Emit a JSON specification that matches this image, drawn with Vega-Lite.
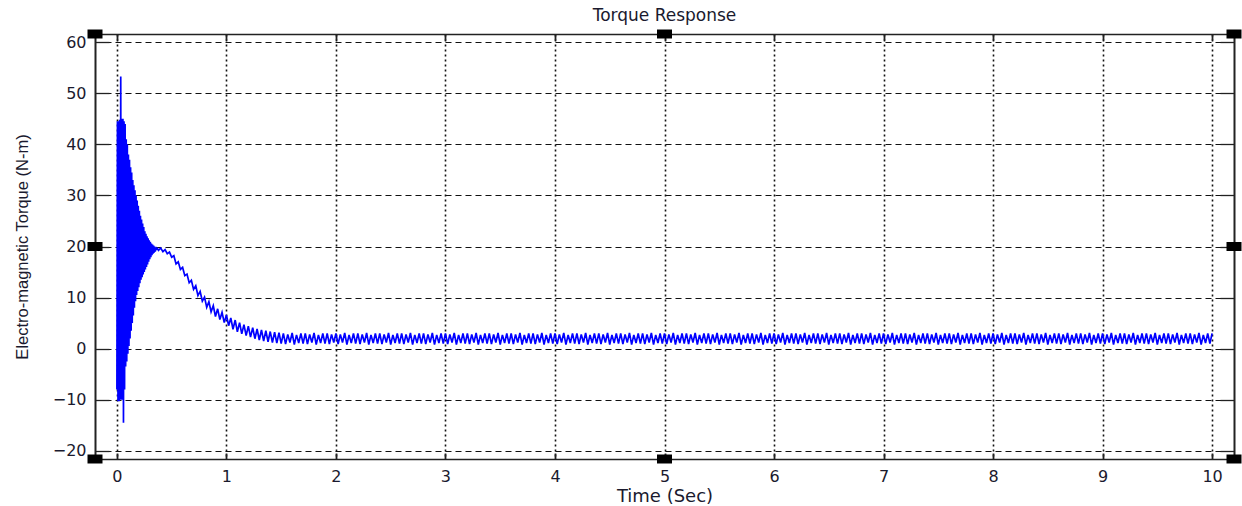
{
"$schema": "https://vega.github.io/schema/vega-lite/v6.json",
"width": 1139, "height": 425,
"autosize": {"type": "none"},
"padding": {"left": 95, "top": 34, "right": 8, "bottom": 47},
"background": "white",
"title": {"text": "Torque Response", "font": "DejaVu Sans", "fontSize": 17, "fontWeight": "normal", "color": "#1a1a2e", "offset": 5, "anchor": "middle"},
"config": {"view": {"stroke": null}},
"datasets": {
"torque": [
{"t":0,"v":-8},{"t":0.005,"v":44.5},{"t":0.01,"v":-10.3},{"t":0.015,"v":44.5},{"t":0.02,"v":-10.3},{"t":0.025,"v":44.8},{"t":0.03,"v":-10},{"t":0.035,"v":53.3},{"t":0.04,"v":-10},{"t":0.045,"v":45},{"t":0.05,"v":-10},{"t":0.055,"v":45},{"t":0.06,"v":-14.5},{"t":0.065,"v":44.5},{"t":0.07,"v":-8},{"t":0.075,"v":44},{"t":0.08,"v":-3.5},{"t":0.085,"v":41},{"t":0.09,"v":-2.5},{"t":0.095,"v":40},{"t":0.1,"v":-1},{"t":0.105,"v":38},{"t":0.11,"v":0.5},{"t":0.115,"v":37},{"t":0.12,"v":2},{"t":0.125,"v":35.5},{"t":0.13,"v":3.5},{"t":0.135,"v":34.5},{"t":0.14,"v":5},{"t":0.145,"v":33},{"t":0.15,"v":6.5},{"t":0.155,"v":32},{"t":0.16,"v":8},{"t":0.165,"v":31},{"t":0.17,"v":9.3},{"t":0.175,"v":30},{"t":0.18,"v":10.5},{"t":0.185,"v":29},{"t":0.19,"v":11.3},{"t":0.195,"v":28},{"t":0.2,"v":12},{"t":0.205,"v":27},{"t":0.21,"v":12.8},{"t":0.215,"v":26},{"t":0.22,"v":13.5},{"t":0.225,"v":25.3},{"t":0.23,"v":14},{"t":0.235,"v":24.5},{"t":0.24,"v":14.5},{"t":0.245,"v":23.8},{"t":0.25,"v":15},{"t":0.255,"v":23},{"t":0.26,"v":15.5},{"t":0.265,"v":22.5},{"t":0.27,"v":16},{"t":0.275,"v":22},{"t":0.28,"v":16.5},{"t":0.285,"v":21.6},{"t":0.29,"v":17},{"t":0.295,"v":21.2},{"t":0.3,"v":17.5},{"t":0.305,"v":20.9},{"t":0.31,"v":17.9},{"t":0.315,"v":20.6},{"t":0.32,"v":18.3},{"t":0.325,"v":20.4},{"t":0.33,"v":18.6},{"t":0.335,"v":20.2},{"t":0.34,"v":18.8},{"t":0.345,"v":20.0},{"t":0.35,"v":19.0},{"t":0.355,"v":19.8},{"t":0.36,"v":19.3},{"t":0.365,"v":19.7},{"t":0.37,"v":19.6},
{"t":0.38,"v":19.25},{"t":0.4,"v":19.7},{"t":0.42,"v":19.0},{"t":0.44,"v":19.4},{"t":0.46,"v":18.6},{"t":0.48,"v":18.9},{"t":0.5,"v":17.9},{"t":0.52,"v":18.2},{"t":0.54,"v":16.6},{"t":0.56,"v":17.0},{"t":0.58,"v":15.5},{"t":0.6,"v":15.9},{"t":0.62,"v":14.3},{"t":0.64,"v":14.6},{"t":0.66,"v":12.9},{"t":0.68,"v":13.4},{"t":0.7,"v":11.6},{"t":0.72,"v":12.3},{"t":0.74,"v":10.4},{"t":0.76,"v":11.2},{"t":0.78,"v":9.3},{"t":0.8,"v":10.1},{"t":0.82,"v":8.1},{"t":0.84,"v":9.2},{"t":0.86,"v":7.2},{"t":0.88,"v":8.4},{"t":0.9,"v":6.3},{"t":0.92,"v":7.8},{"t":0.94,"v":5.7},{"t":0.96,"v":7.1},{"t":0.98,"v":5.1},{"t":1.0,"v":6.6},{"t":1.02,"v":4.5},{"t":1.04,"v":6.0},{"t":1.06,"v":3.8},{"t":1.08,"v":5.6},{"t":1.1,"v":3.3},{"t":1.12,"v":5.1},{"t":1.14,"v":2.9},{"t":1.16,"v":4.7},{"t":1.18,"v":2.55},{"t":1.2,"v":4.4},{"t":1.22,"v":2.25},{"t":1.24,"v":4.1},{"t":1.26,"v":1.95},{"t":1.28,"v":3.85},{"t":1.3,"v":1.7},{"t":1.32,"v":3.65},{"t":1.34,"v":1.5},{"t":1.36,"v":3.5},{"t":1.38,"v":1.35},{"t":1.4,"v":3.35},{"t":1.42,"v":1.2},{"t":1.44,"v":3.25},{"t":1.46,"v":1.1},{"t":1.48,"v":3.15},
{"t":1.5,"v":1.0},{"t":1.52,"v":3.0},{"t":1.54,"v":0.9},{"t":1.56,"v":2.8},{"t":1.58,"v":1.2},{"t":1.6,"v":3.1},{"t":1.62,"v":0.8},{"t":1.64,"v":2.7},{"t":1.66,"v":1.1},{"t":1.68,"v":3.0},{"t":1.7,"v":1.0},{"t":1.72,"v":3.0},{"t":1.74,"v":0.9},{"t":1.76,"v":2.8},{"t":1.78,"v":1.2},{"t":1.8,"v":3.1},{"t":1.82,"v":0.8},{"t":1.84,"v":2.7},{"t":1.86,"v":1.1},{"t":1.88,"v":3.0},{"t":1.9,"v":1.0},{"t":1.92,"v":3.0},{"t":1.94,"v":0.9},{"t":1.96,"v":2.8},{"t":1.98,"v":1.2},
{"t":2.0,"v":3.0},{"t":2.02,"v":0.9},{"t":2.04,"v":2.8},{"t":2.06,"v":1.2},{"t":2.08,"v":3.1},{"t":2.1,"v":0.8},{"t":2.12,"v":2.7},{"t":2.14,"v":1.1},{"t":2.16,"v":3.0},{"t":2.18,"v":1.0},
{"t":2.2,"v":3.0},{"t":2.22,"v":0.9},{"t":2.24,"v":2.8},{"t":2.26,"v":1.2},{"t":2.28,"v":3.1},{"t":2.3,"v":0.8},{"t":2.32,"v":2.7},{"t":2.34,"v":1.1},{"t":2.36,"v":3.0},{"t":2.38,"v":1.0},
{"t":2.4,"v":3.0},{"t":2.42,"v":0.9},{"t":2.44,"v":2.8},{"t":2.46,"v":1.2},{"t":2.48,"v":3.1},{"t":2.5,"v":0.8},{"t":2.52,"v":2.7},{"t":2.54,"v":1.1},{"t":2.56,"v":3.0},{"t":2.58,"v":1.0},
{"t":2.6,"v":3.0},{"t":2.62,"v":0.9},{"t":2.64,"v":2.8},{"t":2.66,"v":1.2},{"t":2.68,"v":3.1},{"t":2.7,"v":0.8},{"t":2.72,"v":2.7},{"t":2.74,"v":1.1},{"t":2.76,"v":3.0},{"t":2.78,"v":1.0},
{"t":2.8,"v":3.0},{"t":2.82,"v":0.9},{"t":2.84,"v":2.8},{"t":2.86,"v":1.2},{"t":2.88,"v":3.1},{"t":2.9,"v":0.8},{"t":2.92,"v":2.7},{"t":2.94,"v":1.1},{"t":2.96,"v":3.0},{"t":2.98,"v":1.0},
{"t":3.0,"v":3.0},{"t":3.02,"v":0.9},{"t":3.04,"v":2.8},{"t":3.06,"v":1.2},{"t":3.08,"v":3.1},{"t":3.1,"v":0.8},{"t":3.12,"v":2.7},{"t":3.14,"v":1.1},{"t":3.16,"v":3.0},{"t":3.18,"v":1.0},
{"t":3.2,"v":3.0},{"t":3.22,"v":0.9},{"t":3.24,"v":2.8},{"t":3.26,"v":1.2},{"t":3.28,"v":3.1},{"t":3.3,"v":0.8},{"t":3.32,"v":2.7},{"t":3.34,"v":1.1},{"t":3.36,"v":3.0},{"t":3.38,"v":1.0},
{"t":3.4,"v":3.0},{"t":3.42,"v":0.9},{"t":3.44,"v":2.8},{"t":3.46,"v":1.2},{"t":3.48,"v":3.1},{"t":3.5,"v":0.8},{"t":3.52,"v":2.7},{"t":3.54,"v":1.1},{"t":3.56,"v":3.0},{"t":3.58,"v":1.0},
{"t":3.6,"v":3.0},{"t":3.62,"v":0.9},{"t":3.64,"v":2.8},{"t":3.66,"v":1.2},{"t":3.68,"v":3.1},{"t":3.7,"v":0.8},{"t":3.72,"v":2.7},{"t":3.74,"v":1.1},{"t":3.76,"v":3.0},{"t":3.78,"v":1.0},
{"t":3.8,"v":3.0},{"t":3.82,"v":0.9},{"t":3.84,"v":2.8},{"t":3.86,"v":1.2},{"t":3.88,"v":3.1},{"t":3.9,"v":0.8},{"t":3.92,"v":2.7},{"t":3.94,"v":1.1},{"t":3.96,"v":3.0},{"t":3.98,"v":1.0},
{"t":4.0,"v":3.0},{"t":4.02,"v":0.9},{"t":4.04,"v":2.8},{"t":4.06,"v":1.2},{"t":4.08,"v":3.1},{"t":4.1,"v":0.8},{"t":4.12,"v":2.7},{"t":4.14,"v":1.1},{"t":4.16,"v":3.0},{"t":4.18,"v":1.0},
{"t":4.2,"v":3.0},{"t":4.22,"v":0.9},{"t":4.24,"v":2.8},{"t":4.26,"v":1.2},{"t":4.28,"v":3.1},{"t":4.3,"v":0.8},{"t":4.32,"v":2.7},{"t":4.34,"v":1.1},{"t":4.36,"v":3.0},{"t":4.38,"v":1.0},
{"t":4.4,"v":3.0},{"t":4.42,"v":0.9},{"t":4.44,"v":2.8},{"t":4.46,"v":1.2},{"t":4.48,"v":3.1},{"t":4.5,"v":0.8},{"t":4.52,"v":2.7},{"t":4.54,"v":1.1},{"t":4.56,"v":3.0},{"t":4.58,"v":1.0},
{"t":4.6,"v":3.0},{"t":4.62,"v":0.9},{"t":4.64,"v":2.8},{"t":4.66,"v":1.2},{"t":4.68,"v":3.1},{"t":4.7,"v":0.8},{"t":4.72,"v":2.7},{"t":4.74,"v":1.1},{"t":4.76,"v":3.0},{"t":4.78,"v":1.0},
{"t":4.8,"v":3.0},{"t":4.82,"v":0.9},{"t":4.84,"v":2.8},{"t":4.86,"v":1.2},{"t":4.88,"v":3.1},{"t":4.9,"v":0.8},{"t":4.92,"v":2.7},{"t":4.94,"v":1.1},{"t":4.96,"v":3.0},{"t":4.98,"v":1.0},
{"t":5.0,"v":3.0},{"t":5.02,"v":0.9},{"t":5.04,"v":2.8},{"t":5.06,"v":1.2},{"t":5.08,"v":3.1},{"t":5.1,"v":0.8},{"t":5.12,"v":2.7},{"t":5.14,"v":1.1},{"t":5.16,"v":3.0},{"t":5.18,"v":1.0},
{"t":5.2,"v":3.0},{"t":5.22,"v":0.9},{"t":5.24,"v":2.8},{"t":5.26,"v":1.2},{"t":5.28,"v":3.1},{"t":5.3,"v":0.8},{"t":5.32,"v":2.7},{"t":5.34,"v":1.1},{"t":5.36,"v":3.0},{"t":5.38,"v":1.0},
{"t":5.4,"v":3.0},{"t":5.42,"v":0.9},{"t":5.44,"v":2.8},{"t":5.46,"v":1.2},{"t":5.48,"v":3.1},{"t":5.5,"v":0.8},{"t":5.52,"v":2.7},{"t":5.54,"v":1.1},{"t":5.56,"v":3.0},{"t":5.58,"v":1.0},
{"t":5.6,"v":3.0},{"t":5.62,"v":0.9},{"t":5.64,"v":2.8},{"t":5.66,"v":1.2},{"t":5.68,"v":3.1},{"t":5.7,"v":0.8},{"t":5.72,"v":2.7},{"t":5.74,"v":1.1},{"t":5.76,"v":3.0},{"t":5.78,"v":1.0},
{"t":5.8,"v":3.0},{"t":5.82,"v":0.9},{"t":5.84,"v":2.8},{"t":5.86,"v":1.2},{"t":5.88,"v":3.1},{"t":5.9,"v":0.8},{"t":5.92,"v":2.7},{"t":5.94,"v":1.1},{"t":5.96,"v":3.0},{"t":5.98,"v":1.0},
{"t":6.0,"v":3.0},{"t":6.02,"v":0.9},{"t":6.04,"v":2.8},{"t":6.06,"v":1.2},{"t":6.08,"v":3.1},{"t":6.1,"v":0.8},{"t":6.12,"v":2.7},{"t":6.14,"v":1.1},{"t":6.16,"v":3.0},{"t":6.18,"v":1.0},
{"t":6.2,"v":3.0},{"t":6.22,"v":0.9},{"t":6.24,"v":2.8},{"t":6.26,"v":1.2},{"t":6.28,"v":3.1},{"t":6.3,"v":0.8},{"t":6.32,"v":2.7},{"t":6.34,"v":1.1},{"t":6.36,"v":3.0},{"t":6.38,"v":1.0},
{"t":6.4,"v":3.0},{"t":6.42,"v":0.9},{"t":6.44,"v":2.8},{"t":6.46,"v":1.2},{"t":6.48,"v":3.1},{"t":6.5,"v":0.8},{"t":6.52,"v":2.7},{"t":6.54,"v":1.1},{"t":6.56,"v":3.0},{"t":6.58,"v":1.0},
{"t":6.6,"v":3.0},{"t":6.62,"v":0.9},{"t":6.64,"v":2.8},{"t":6.66,"v":1.2},{"t":6.68,"v":3.1},{"t":6.7,"v":0.8},{"t":6.72,"v":2.7},{"t":6.74,"v":1.1},{"t":6.76,"v":3.0},{"t":6.78,"v":1.0},
{"t":6.8,"v":3.0},{"t":6.82,"v":0.9},{"t":6.84,"v":2.8},{"t":6.86,"v":1.2},{"t":6.88,"v":3.1},{"t":6.9,"v":0.8},{"t":6.92,"v":2.7},{"t":6.94,"v":1.1},{"t":6.96,"v":3.0},{"t":6.98,"v":1.0},
{"t":7.0,"v":3.0},{"t":7.02,"v":0.9},{"t":7.04,"v":2.8},{"t":7.06,"v":1.2},{"t":7.08,"v":3.1},{"t":7.1,"v":0.8},{"t":7.12,"v":2.7},{"t":7.14,"v":1.1},{"t":7.16,"v":3.0},{"t":7.18,"v":1.0},
{"t":7.2,"v":3.0},{"t":7.22,"v":0.9},{"t":7.24,"v":2.8},{"t":7.26,"v":1.2},{"t":7.28,"v":3.1},{"t":7.3,"v":0.8},{"t":7.32,"v":2.7},{"t":7.34,"v":1.1},{"t":7.36,"v":3.0},{"t":7.38,"v":1.0},
{"t":7.4,"v":3.0},{"t":7.42,"v":0.9},{"t":7.44,"v":2.8},{"t":7.46,"v":1.2},{"t":7.48,"v":3.1},{"t":7.5,"v":0.8},{"t":7.52,"v":2.7},{"t":7.54,"v":1.1},{"t":7.56,"v":3.0},{"t":7.58,"v":1.0},
{"t":7.6,"v":3.0},{"t":7.62,"v":0.9},{"t":7.64,"v":2.8},{"t":7.66,"v":1.2},{"t":7.68,"v":3.1},{"t":7.7,"v":0.8},{"t":7.72,"v":2.7},{"t":7.74,"v":1.1},{"t":7.76,"v":3.0},{"t":7.78,"v":1.0},
{"t":7.8,"v":3.0},{"t":7.82,"v":0.9},{"t":7.84,"v":2.8},{"t":7.86,"v":1.2},{"t":7.88,"v":3.1},{"t":7.9,"v":0.8},{"t":7.92,"v":2.7},{"t":7.94,"v":1.1},{"t":7.96,"v":3.0},{"t":7.98,"v":1.0},
{"t":8.0,"v":3.0},{"t":8.02,"v":0.9},{"t":8.04,"v":2.8},{"t":8.06,"v":1.2},{"t":8.08,"v":3.1},{"t":8.1,"v":0.8},{"t":8.12,"v":2.7},{"t":8.14,"v":1.1},{"t":8.16,"v":3.0},{"t":8.18,"v":1.0},
{"t":8.2,"v":3.0},{"t":8.22,"v":0.9},{"t":8.24,"v":2.8},{"t":8.26,"v":1.2},{"t":8.28,"v":3.1},{"t":8.3,"v":0.8},{"t":8.32,"v":2.7},{"t":8.34,"v":1.1},{"t":8.36,"v":3.0},{"t":8.38,"v":1.0},
{"t":8.4,"v":3.0},{"t":8.42,"v":0.9},{"t":8.44,"v":2.8},{"t":8.46,"v":1.2},{"t":8.48,"v":3.1},{"t":8.5,"v":0.8},{"t":8.52,"v":2.7},{"t":8.54,"v":1.1},{"t":8.56,"v":3.0},{"t":8.58,"v":1.0},
{"t":8.6,"v":3.0},{"t":8.62,"v":0.9},{"t":8.64,"v":2.8},{"t":8.66,"v":1.2},{"t":8.68,"v":3.1},{"t":8.7,"v":0.8},{"t":8.72,"v":2.7},{"t":8.74,"v":1.1},{"t":8.76,"v":3.0},{"t":8.78,"v":1.0},
{"t":8.8,"v":3.0},{"t":8.82,"v":0.9},{"t":8.84,"v":2.8},{"t":8.86,"v":1.2},{"t":8.88,"v":3.1},{"t":8.9,"v":0.8},{"t":8.92,"v":2.7},{"t":8.94,"v":1.1},{"t":8.96,"v":3.0},{"t":8.98,"v":1.0},
{"t":9.0,"v":3.0},{"t":9.02,"v":0.9},{"t":9.04,"v":2.8},{"t":9.06,"v":1.2},{"t":9.08,"v":3.1},{"t":9.1,"v":0.8},{"t":9.12,"v":2.7},{"t":9.14,"v":1.1},{"t":9.16,"v":3.0},{"t":9.18,"v":1.0},
{"t":9.2,"v":3.0},{"t":9.22,"v":0.9},{"t":9.24,"v":2.8},{"t":9.26,"v":1.2},{"t":9.28,"v":3.1},{"t":9.3,"v":0.8},{"t":9.32,"v":2.7},{"t":9.34,"v":1.1},{"t":9.36,"v":3.0},{"t":9.38,"v":1.0},
{"t":9.4,"v":3.0},{"t":9.42,"v":0.9},{"t":9.44,"v":2.8},{"t":9.46,"v":1.2},{"t":9.48,"v":3.1},{"t":9.5,"v":0.8},{"t":9.52,"v":2.7},{"t":9.54,"v":1.1},{"t":9.56,"v":3.0},{"t":9.58,"v":1.0},
{"t":9.6,"v":3.0},{"t":9.62,"v":0.9},{"t":9.64,"v":2.8},{"t":9.66,"v":1.2},{"t":9.68,"v":3.1},{"t":9.7,"v":0.8},{"t":9.72,"v":2.7},{"t":9.74,"v":1.1},{"t":9.76,"v":3.0},{"t":9.78,"v":1.0},
{"t":9.8,"v":3.0},{"t":9.82,"v":0.9},{"t":9.84,"v":2.8},{"t":9.86,"v":1.2},{"t":9.88,"v":3.1},{"t":9.9,"v":0.8},{"t":9.92,"v":2.7},{"t":9.94,"v":1.1},{"t":9.96,"v":3.0},{"t":9.98,"v":1.0},
{"t":10.0,"v":3.0}
],
"handles": [{"x":-0.2,"y":61.6},{"x":5,"y":61.6},{"x":10.2,"y":61.6},{"x":-0.2,"y":20},{"x":10.2,"y":20},{"x":-0.2,"y":-21.6},{"x":5,"y":-21.6},{"x":10.2,"y":-21.6}]
},
"resolve": {"axis": {"x": "independent", "y": "independent"}},
"layer": [
{
"data": {"name": "torque"},
"mark": {"type": "line", "color": "#0000ff", "strokeWidth": 1.7, "clip": true},
"encoding": {
"x": {"field": "t", "type": "quantitative", "scale": {"domain": [-0.2, 10.2], "nice": false, "zero": false},
 "axis": {"orient": "bottom", "values": [0,1,2,3,4,5,6,7,8,9,10], "format": "d", "grid": true, "gridColor": "#111", "gridDash": [2,3], "gridWidth": 1.6, "domainColor": "#222", "domainWidth": 1.3, "tickColor": "#222", "tickWidth": 1.8, "tickSize": -6, "labelFont": "DejaVu Sans", "labelFontSize": 16, "labelColor": "#1a1a2e", "labelPadding": 15, "title": "Time (Sec)", "titleFont": "DejaVu Sans", "titleFontSize": 18, "titleFontWeight": "normal", "titleColor": "#1a1a2e", "titlePadding": 3}},
"y": {"field": "v", "type": "quantitative", "scale": {"domain": [-21.6, 61.6], "nice": false, "zero": false},
 "axis": {"orient": "left", "values": [-20,-10,0,10,20,30,40,50,60], "format": "d", "grid": true, "gridColor": "#111", "gridDash": [6,4], "gridWidth": 1.2, "domainColor": "#222", "domainWidth": 2, "tickColor": "#222", "tickWidth": 1.3, "tickSize": -14, "labelFont": "DejaVu Sans", "labelFontSize": 16, "labelColor": "#1a1a2e", "labelPadding": 23, "title": "Electro-magnetic Torque (N-m)", "titleFont": "Liberation Sans", "titleFontSize": 16.5, "titleFontWeight": "normal", "titleColor": "#1a1a2e", "titlePadding": 22}}
}
},
{
"data": {"name": "torque"},
"mark": {"type": "line", "opacity": 0},
"encoding": {
"x": {"field": "t", "type": "quantitative", "scale": {"domain": [-0.2, 10.2], "nice": false, "zero": false},
 "axis": {"orient": "top", "values": [0,1,2,3,4,5,6,7,8,9,10], "labels": false, "title": null, "grid": false, "domainColor": "#222", "domainWidth": 1.3, "tickColor": "#222", "tickWidth": 1.8, "tickSize": -6}},
"y": {"field": "v", "type": "quantitative", "scale": {"domain": [-21.6, 61.6], "nice": false, "zero": false},
 "axis": {"orient": "right", "values": [-20,-10,0,10,20,30,40,50,60], "labels": false, "title": null, "grid": false, "domainColor": "#222", "domainWidth": 2, "tickColor": "#222", "tickWidth": 1.3, "tickSize": -14}}
}
},
{
"data": {"name": "handles"},
"mark": {"type": "point", "shape": "M-1,-0.6H1V0.6H-1Z", "size": 225, "filled": true, "color": "#000", "opacity": 1, "clip": false},
"encoding": {
"x": {"field": "x", "type": "quantitative", "scale": {"domain": [-0.2, 10.2], "nice": false, "zero": false}, "axis": null},
"y": {"field": "y", "type": "quantitative", "scale": {"domain": [-21.6, 61.6], "nice": false, "zero": false}, "axis": null}
}
}
]
}
